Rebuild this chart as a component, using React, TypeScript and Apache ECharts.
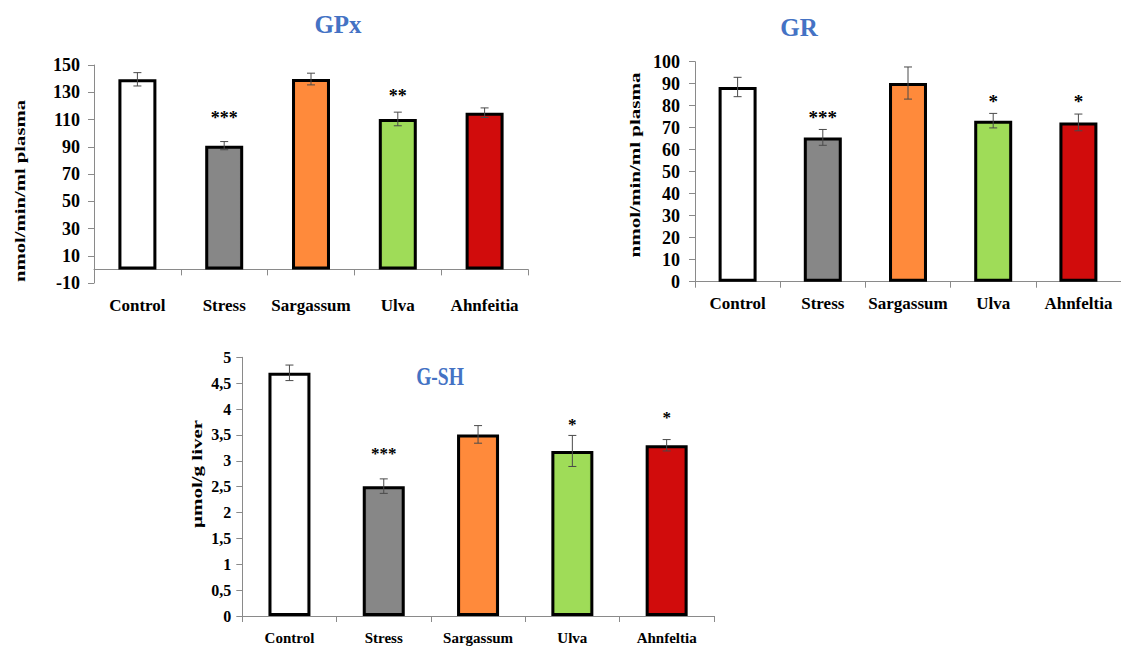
import React, { useEffect, useRef } from "react";
import * as echarts from "echarts";

const categoriesGPx = ["Control", "Stress", "Sargassum", "Ulva", "Ahnfeitia"];
const categories = ["Control", "Stress", "Sargassum", "Ulva", "Ahnfeltia"];

const gpxMeans = [139.5, 90.8, 139.7, 110.4, 115];
const gpxErr = [4.9, 3, 4.3, 5, 3.5];
const gpxStars = ["", "***", "", "**", ""];
const gpxStarLevel = [null, 114, null, 130, null];

const grMeans = [88.5, 65.6, 90.3, 73.2, 72.4];
const grErr = [4.4, 3.6, 7.3, 3.3, 3.8];
const grStars = ["", "***", "", "*", "*"];
const grStarLevel = [null, 76.5, null, 84, 84];

const gshMeans = [4.7, 2.51, 3.51, 3.19, 3.3];
const gshErr = [0.15, 0.14, 0.17, 0.3, 0.11];
const gshStars = ["", "***", "", "*", "*"];
const gshStarLevel = [null, 3.21, null, 3.77, 3.91];

const gpxTicks = { min: -10, max: 150, interval: 20 };
const grTicks = { min: 0, max: 100, interval: 10 };
const gshTicks = { min: 0, max: 5, interval: 0.5 };

const barColors = ["#FFFFFF", "#878787", "#FF8A3B", "#9FDC58", "#D10C0C"];
const edgeColors = ["#d4d4d4", "#6a6a6a", "#de6e26", "#7fbf40", "#a00606"];

const FONT = "'Liberation Serif', 'Times New Roman', serif";

function barData(means: number[]) {
  return means.map((v, i) => ({
    value: v,
    itemStyle: {
      color: {
        type: "linear",
        x: 0,
        y: 0,
        x2: 1,
        y2: 0,
        colorStops: [
          { offset: 0, color: edgeColors[i] },
          { offset: 0.07, color: barColors[i] },
          { offset: 0.93, color: barColors[i] },
          { offset: 1, color: edgeColors[i] },
        ],
      },
      borderColor: "#000",
      borderWidth: 3,
    },
  }));
}

function errSeries(idx: number, means: number[], errs: number[]) {
  return {
    type: "custom",
    xAxisIndex: idx,
    yAxisIndex: idx,
    z: 5,
    silent: true,
    data: means.map((m, i) => [i, m - errs[i], m + errs[i]]),
    renderItem: (params: any, api: any) => {
      const lo = api.coord([api.value(0), api.value(1)]);
      const hi = api.coord([api.value(0), api.value(2)]);
      const w = 4;
      const st = { stroke: "#4a4a4a", lineWidth: 1 };
      return {
        type: "group",
        children: [
          { type: "line", shape: { x1: lo[0], y1: lo[1], x2: hi[0], y2: hi[1] }, style: st },
          { type: "line", shape: { x1: lo[0] - w, y1: lo[1], x2: lo[0] + w, y2: lo[1] }, style: st },
          { type: "line", shape: { x1: hi[0] - w, y1: hi[1], x2: hi[0] + w, y2: hi[1] }, style: st },
        ],
      };
    },
  };
}

function starSeries(idx: number, stars: string[], levels: (number | null)[], size: number) {
  return {
    type: "custom",
    xAxisIndex: idx,
    yAxisIndex: idx,
    z: 6,
    silent: true,
    data: levels.map((l, i) => [i, l == null ? 0 : l]),
    renderItem: (params: any, api: any) => {
      const i = params.dataIndex;
      if (!stars[i]) return null;
      const p = api.coord([api.value(0), api.value(1)]);
      return {
        type: "text",
        x: p[0],
        y: p[1] + size * 0.22,
        style: {
          text: stars[i],
          font: `bold ${size}px ${FONT}`,
          fill: "#000",
          textAlign: "center",
          textVerticalAlign: "middle",
        },
      };
    },
  };
}

export default function App() {
  const ref = useRef<HTMLDivElement>(null);
  useEffect(() => {
    if (!ref.current) return;
    const chart = echarts.init(ref.current, null, { renderer: "svg" });
    const axisLineStyle = { color: "#8a8a8a", width: 1 };
    const mkX = (idx: number, cats: string[], margin: number, fs: number) => ({
      type: "category",
      gridIndex: idx,
      data: cats,
      axisLine: { show: true, onZero: true, lineStyle: axisLineStyle },
      axisTick: { show: true, length: 6, lineStyle: axisLineStyle },
      axisLabel: { color: "#000", fontWeight: "bold", fontSize: fs, fontFamily: FONT, margin, interval: 0 },
      splitLine: { show: false },
    });
    const mkY = (idx: number, t: any, margin: number, fs: number, fmt?: any) => ({
      type: "value",
      gridIndex: idx,
      min: t.min,
      max: t.max,
      interval: t.interval,
      axisLine: { show: true, lineStyle: axisLineStyle },
      axisTick: { show: true, length: 6, lineStyle: axisLineStyle },
      axisLabel: { color: "#000", fontWeight: "bold", fontSize: fs, fontFamily: FONT, margin, formatter: fmt },
      splitLine: { show: false },
    });
    const titleText = (text: string, x: number, y: number, size: number, sx = 1) => ({
      type: "text",
      x,
      y,
      scaleX: sx,
      style: {
        text,
        font: `bold ${size}px ${FONT}`,
        fill: "#4472C4",
        textAlign: "center",
        textVerticalAlign: "middle",
      },
    });
    const axisName = (text: string, x: number, y: number, size: number, sx: number) => ({
      type: "text",
      x,
      y,
      rotation: Math.PI / 2,
      scaleX: sx,
      style: {
        text,
        font: `bold ${size}px ${FONT}`,
        fill: "#000",
        textAlign: "center",
        textVerticalAlign: "middle",
      },
    });
    chart.setOption({
      animation: false,
      backgroundColor: "#fff",
      grid: [
        { left: 94, top: 65, width: 434, height: 218 },
        { left: 695, top: 61.7, width: 433.5, height: 220 },
        { left: 242.3, top: 357.3, width: 471.5, height: 258.7 },
      ],
      xAxis: [mkX(0, categoriesGPx, 14, 17), mkX(1, categories, 13, 17), mkX(2, categories, 14, 15)],
      yAxis: [
        mkY(0, gpxTicks, 14, 18),
        mkY(1, grTicks, 15, 18),
        mkY(2, gshTicks, 11, 16, (v: number) => String(v).replace(".", ",")),
      ],
      graphic: [
        titleText("GPx", 338, 24, 25),
        titleText("GR", 799, 27, 25),
        titleText("G-SH", 440, 377, 25, 0.78),
        axisName("nmol/min/ml plasma", 20, 191, 15, 1.38),
        axisName("nmol/min/ml plasma", 635, 165, 15, 1.4),
        axisName("µmol/g liver", 197, 474, 15, 1.4),
      ],
      series: [
        { type: "bar", xAxisIndex: 0, yAxisIndex: 0, barWidth: 38, data: barData(gpxMeans) },
        { type: "bar", xAxisIndex: 1, yAxisIndex: 1, barWidth: 38, data: barData(grMeans) },
        { type: "bar", xAxisIndex: 2, yAxisIndex: 2, barWidth: 42, data: barData(gshMeans) },
        errSeries(0, gpxMeans, gpxErr),
        errSeries(1, grMeans, grErr),
        errSeries(2, gshMeans, gshErr),
        starSeries(0, gpxStars, gpxStarLevel, 18),
        starSeries(1, grStars, grStarLevel, 19),
        starSeries(2, gshStars, gshStarLevel, 17),
      ],
    });
    return () => chart.dispose();
  }, []);
  return (
    <div
      ref={ref}
      style={{ position: "absolute", left: 0, top: 0, width: 1121, height: 646 }}
    />
  );
}
